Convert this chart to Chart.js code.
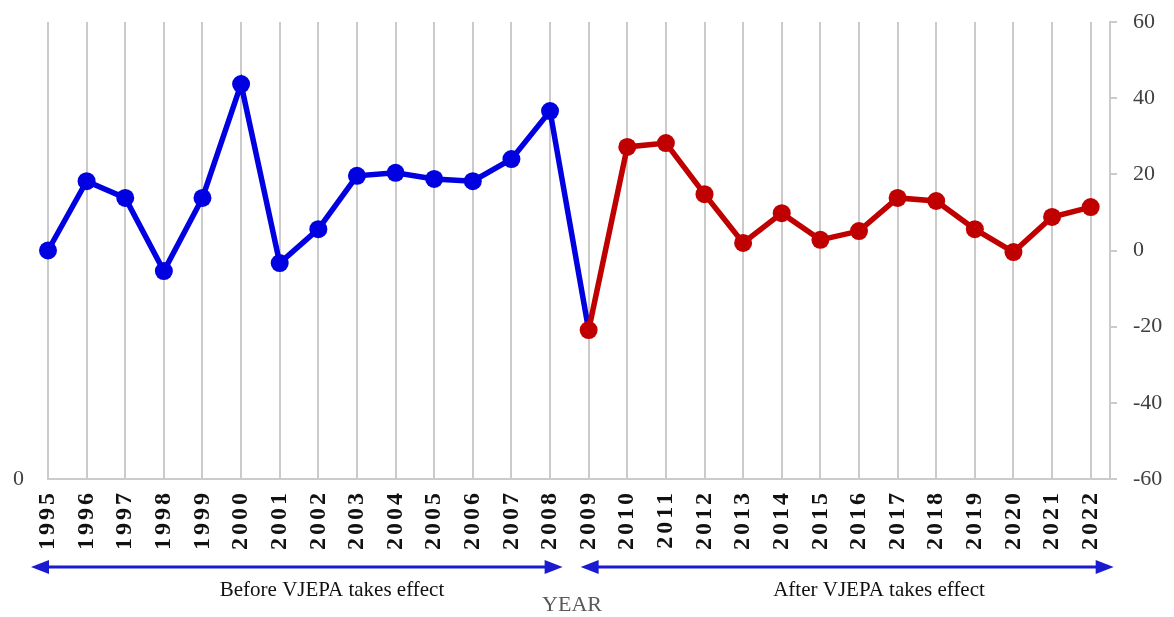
<!DOCTYPE html>
<html>
<head>
<meta charset="utf-8">
<script src="https://cdn.jsdelivr.net/npm/chart.js@4/dist/chart.umd.min.js"></script>
<style>
  html, body { margin: 0; padding: 0; background: #ffffff; }
  #wrap { position: relative; width: 1174px; height: 617px; }
  canvas { display: block; }
</style>
</head>
<body>
<div id="wrap"><canvas id="c" width="1174" height="617"></canvas></div>
<script>
// ---- data ----
const years = [1995,1996,1997,1998,1999,2000,2001,2002,2003,2004,2005,2006,2007,2008,2009,2010,2011,2012,2013,2014,2015,2016,2017,2018,2019,2020,2021,2022];
const yearsBefore = [1995,1996,1997,1998,1999,2000,2001,2002,2003,2004,2005,2006,2007,2008,2009];
const valuesBefore = [0, 18.2, 13.8, -5.4, 13.8, 43.7, -3.3, 5.6, 19.6, 20.4, 18.8, 18.2, 24.0, 36.6, -20.9];
const yearsAfter = [2009,2010,2011,2012,2013,2014,2015,2016,2017,2018,2019,2020,2021,2022];
const valuesAfter = [-20.9, 27.2, 28.2, 14.8, 2.0, 9.8, 2.8, 5.1, 13.8, 13.0, 5.6, -0.4, 8.8, 11.4];
const yTicks = [-60, -40, -20, 0, 20, 40, 60];
const leftTickLabels = ['0'];
const periodLabels = ['Before VJEPA takes effect', 'After VJEPA takes effect'];
const axisTitle = 'YEAR';

const BLUE = '#0000e0';
const RED = '#c00000';
const GRID = '#cbcbcb';

const xSpacing = {
  id: 'xSpacing',
  beforeDraw(chart) {
    const s = chart.scales.x;
    if (s && !s._patched) {
      const orig = s.drawLabels;
      s.drawLabels = function (area) {
        const c = this.ctx;
        c.save();
        try { c.letterSpacing = '3px'; } catch (e) {}
        orig.call(this, area);
        c.restore();
      };
      s._patched = true;
    }
  }
};

const annotations = {
  id: 'annotations',
  afterDraw(chart) {
    const ctx = chart.ctx;
    const x = chart.scales.x;
    const yArrow = 567;
    function arrow(x1, x2, y) {
      const hl = 18, hw = 7;
      ctx.save();
      ctx.strokeStyle = '#1a1ad0';
      ctx.fillStyle = '#1a1ad0';
      ctx.lineWidth = 3;
      ctx.beginPath();
      ctx.moveTo(x1 + hl - 2, y);
      ctx.lineTo(x2 - hl + 2, y);
      ctx.stroke();
      ctx.beginPath();
      ctx.moveTo(x1, y); ctx.lineTo(x1 + hl, y - hw); ctx.lineTo(x1 + hl, y + hw); ctx.closePath();
      ctx.fill();
      ctx.beginPath();
      ctx.moveTo(x2, y); ctx.lineTo(x2 - hl, y - hw); ctx.lineTo(x2 - hl, y + hw); ctx.closePath();
      ctx.fill();
      ctx.restore();
    }
    const x0 = x.getPixelForValue(1995);
    const x9 = x.getPixelForValue(2009);
    const x22 = x.getPixelForValue(2022);
    arrow(x0 - 17, x9 - 26, yArrow);
    arrow(x9 - 8, x22 + 23, yArrow);
    ctx.save();
    ctx.font = '21px "Liberation Serif", "Times New Roman", serif';
    ctx.fillStyle = '#111111';
    ctx.textAlign = 'center';
    ctx.textBaseline = 'middle';
    ctx.fillText(periodLabels[0], 332, 590);
    ctx.fillText(periodLabels[1], 879, 590);
    ctx.fillStyle = '#595959';
    ctx.font = '22px "Liberation Serif", "Times New Roman", serif';
    ctx.fillText(axisTitle, 572, 605);
    ctx.restore();
  }
};

new Chart(document.getElementById('c'), {
  type: 'line',
  data: {
    datasets: [
      {
        label: 'After',
        data: yearsAfter.map((yr, i) => ({ x: yr, y: valuesAfter[i] })),
        borderColor: RED,
        backgroundColor: RED,
        pointBackgroundColor: RED,
        pointBorderWidth: 0,
        pointRadius: 9,
        borderWidth: 5.5,
        tension: 0,
        clip: false,
        order: 0
      },
      {
        label: 'Before',
        data: yearsBefore.map((yr, i) => ({ x: yr, y: valuesBefore[i] })),
        borderColor: BLUE,
        backgroundColor: BLUE,
        pointBackgroundColor: BLUE,
        pointBorderWidth: 0,
        pointRadius: (c) => c.dataIndex === yearsBefore.length - 1 ? 0 : 9,
        borderWidth: 5.5,
        tension: 0,
        clip: false,
        order: 1
      }
    ]
  },
  options: {
    responsive: false,
    animation: false,
    events: [],
    layout: { padding: { top: 22, left: 0, right: 0, bottom: 0 } },
    plugins: { legend: { display: false }, tooltip: { enabled: false } },
    scales: {
      x: {
        type: 'linear',
        position: 'bottom',
        min: 1995,
        max: 2022.5,
        afterBuildTicks: (s) => { s.ticks = years.map(v => ({ value: v })); },
        afterFit: (s) => { s.height = 138; s.paddingLeft = 0; s.paddingRight = 0; },
        grid: { display: true, color: GRID, lineWidth: 2, drawTicks: false },
        border: { display: true, color: GRID, width: 2 },
        ticks: {
          autoSkip: false,
          minRotation: 90,
          maxRotation: 90,
          padding: 11,
          color: '#111111',
          font: { family: '"Liberation Serif", "Times New Roman", serif', size: 24, weight: 'bold' },
          callback: (v) => String(v)
        }
      },
      y: {
        position: 'right',
        min: -60,
        max: 60,
        afterBuildTicks: (s) => { s.ticks = yTicks.map(v => ({ value: v })); },
        afterFit: (s) => { s.width = 64; s.paddingTop = 0; s.paddingBottom = 0; },
        grid: { drawOnChartArea: false, drawTicks: true, tickLength: 7, color: GRID, lineWidth: 2 },
        border: { display: true, color: GRID, width: 2 },
        ticks: {
          padding: 16,
          color: '#404040',
          font: { family: '"Liberation Serif", "Times New Roman", serif', size: 22 },
          callback: (v) => String(v)
        }
      },
      y2: {
        position: 'left',
        min: 0,
        max: 1,
        afterBuildTicks: (s) => { s.ticks = [{ value: 0 }]; },
        afterFit: (s) => { s.width = 48; s.paddingTop = 0; s.paddingBottom = 0; },
        grid: { display: false, drawTicks: false, tickLength: 0 },
        border: { display: false },
        ticks: {
          padding: 24,
          color: '#404040',
          font: { family: '"Liberation Serif", "Times New Roman", serif', size: 22 },
          callback: (v, i) => leftTickLabels[i]
        }
      }
    }
  },
  plugins: [xSpacing, annotations]
});
</script>
</body>
</html>
